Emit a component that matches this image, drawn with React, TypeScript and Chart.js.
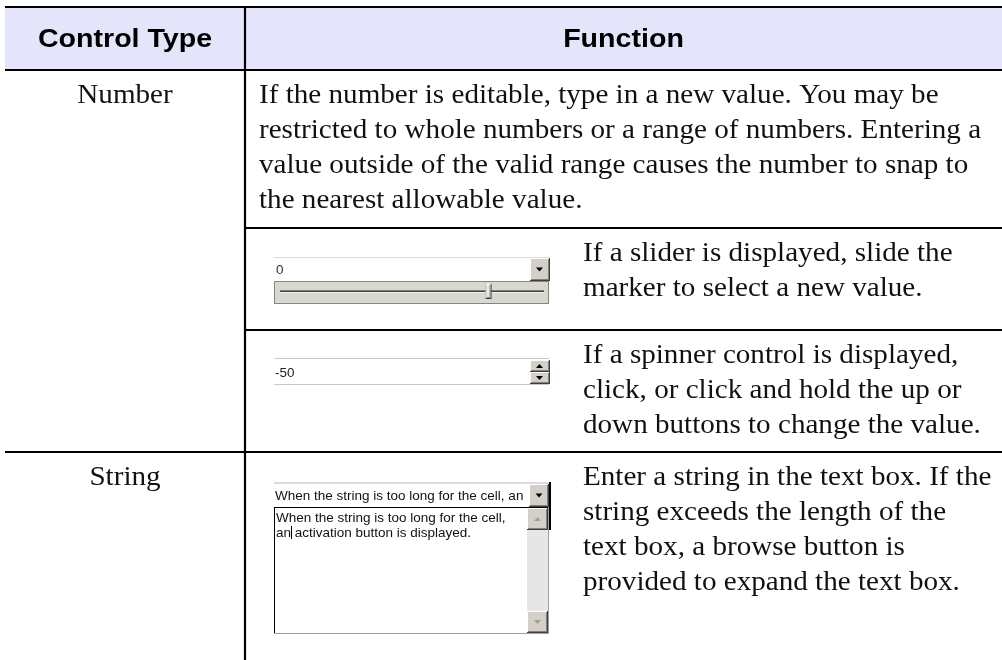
import React, { useEffect, useRef } from "react";
import { Chart, registerables } from "chart.js";
Chart.register(...registerables);

// ---- content ----
const headers = ["Control Type", "Function"];
const controlTypes = ["Number", "String"];
const numberText = [
  "If the number is editable, type in a new value. You may be",
  "restricted to whole numbers or a range of numbers. Entering a",
  "value outside of the valid range causes the number to snap to",
  "the nearest allowable value.",
];
const sliderText = ["If a slider is displayed, slide the", "marker to select a new value."];
const spinnerText = [
  "If a spinner control is displayed,",
  "click, or click and hold the up or",
  "down buttons to change the value.",
];
const stringText = [
  "Enter a string in the text box. If the",
  "string exceeds the length of the",
  "text box, a browse button is",
  "provided to expand the text box.",
];
const sliderValue = "0";
const sliderPosition = 0.79;
const spinnerValue = "-50";
const stringFieldValue = "When the string is too long for the cell, an";
const stringAreaLines = ["When the string is too long for the cell,", "an activation button is displayed."];

// ---- layout (pixel units of the linear scales) ----
const W = 1002;
const H = 660;
const COLS = [5, 245, 1002];
const ROWS = [7, 70, 228, 330, 452, 660];
const LINE_H = 35.3;
const FIRST_BASE = 32.5;

const HEADER_FONT = 'bold 26px "Liberation Sans", Arial, sans-serif';
const HEADER_STRETCH = 1.1;
const BODY_FONT = '28px "Liberation Serif", "Times New Roman", serif';
const BODY_STRETCH = 1.04;
const UI_FONT = '13.5px "Liberation Sans", Arial, sans-serif';
const FACE = "#d4d0c8";

const tablePlugin = {
  id: "tablePlugin",
  beforeDraw(chart: any) {
    const ctx: CanvasRenderingContext2D = chart.ctx;
    ctx.save();
    ctx.fillStyle = "#ffffff";
    ctx.fillRect(0, 0, chart.width, chart.height);
    ctx.restore();
  },
  afterDraw(chart: any) {
    const ctx: CanvasRenderingContext2D = chart.ctx;
    const xs = chart.scales.x;
    const ys = chart.scales.y;
    const X = (v: number) => xs.getPixelForValue(v);
    const Y = (v: number) => ys.getPixelForValue(v);

    const stretchText = (s: string, x: number, y: number, k: number, align: CanvasTextAlign) => {
      ctx.save();
      ctx.translate(x, y);
      ctx.scale(k, 1);
      ctx.textAlign = align;
      ctx.fillText(s, 0, 0);
      ctx.restore();
    };

    ctx.save();
    // header fill
    ctx.fillStyle = "rgb(228,228,250)";
    ctx.fillRect(X(COLS[0]), Y(ROWS[0]), X(COLS[2]) - X(COLS[0]), Y(ROWS[1]) - Y(ROWS[0]));

    // lines
    ctx.strokeStyle = "#000";
    ctx.lineWidth = 2.2;
    const hline = (y: number, x0: number, x1: number) => {
      ctx.beginPath();
      ctx.moveTo(X(x0), Y(y));
      ctx.lineTo(X(x1), Y(y));
      ctx.stroke();
    };
    hline(ROWS[0], COLS[0], COLS[2]);
    hline(ROWS[1], COLS[0], COLS[2]);
    hline(ROWS[2], COLS[1], COLS[2]);
    hline(ROWS[3], COLS[1], COLS[2]);
    hline(ROWS[4], COLS[0], COLS[2]);
    ctx.beginPath();
    ctx.moveTo(X(COLS[1]), Y(ROWS[0]));
    ctx.lineTo(X(COLS[1]), Y(ROWS[5]));
    ctx.stroke();

    // header text
    ctx.fillStyle = "#000";
    ctx.font = HEADER_FONT;
    ctx.textBaseline = "alphabetic";
    headers.forEach((h, i) => {
      const cx = (X(COLS[i]) + X(COLS[i + 1])) / 2;
      stretchText(h, cx, Y(47), HEADER_STRETCH, "center");
    });

    // body text
    ctx.font = BODY_FONT;
    ctx.fillStyle = "#111";
    const typeRows = [ROWS[1], ROWS[4]];
    controlTypes.forEach((t, i) => {
      stretchText(t, (X(COLS[0]) + X(COLS[1])) / 2, Y(typeRows[i] + FIRST_BASE), BODY_STRETCH, "center");
    });
    const para = (lines: string[], x: number, top: number) => {
      lines.forEach((l, i) => stretchText(l, X(x), Y(top + FIRST_BASE + i * LINE_H), BODY_STRETCH, "left"));
    };
    para(numberText, 259, ROWS[1]);
    para(sliderText, 583, ROWS[2]);
    para(spinnerText, 583, ROWS[3]);
    para(stringText, 583, ROWS[4]);

    // ---- widgets ----
    const rect = (x0: number, y0: number, x1: number, y1: number, c: string) => {
      ctx.fillStyle = c;
      ctx.fillRect(X(x0), Y(y0), X(x1) - X(x0), Y(y1) - Y(y0));
    };
    const button = (x0: number, y0: number, x1: number, y1: number) => {
      rect(x0, y0, x1, y1, "#404040");
      rect(x0, y0, x1 - 1, y1 - 1, "#ffffff");
      rect(x0 + 1, y0 + 1, x1 - 1, y1 - 1, "#808080");
      rect(x0 + 1, y0 + 1, x1 - 2, y1 - 2, FACE);
    };
    const tri = (cx: number, cy: number, up: boolean, color: string) => {
      ctx.fillStyle = color;
      ctx.beginPath();
      if (up) {
        ctx.moveTo(X(cx - 3.5), Y(cy + 2));
        ctx.lineTo(X(cx + 3.5), Y(cy + 2));
        ctx.lineTo(X(cx), Y(cy - 2));
      } else {
        ctx.moveTo(X(cx - 3.5), Y(cy - 2));
        ctx.lineTo(X(cx + 3.5), Y(cy - 2));
        ctx.lineTo(X(cx), Y(cy + 2));
      }
      ctx.closePath();
      ctx.fill();
    };
    const uiText = (s: string, x: number, y: number, c = "#222") => {
      ctx.font = UI_FONT;
      ctx.fillStyle = c;
      ctx.textAlign = "left";
      ctx.fillText(s, X(x), Y(y));
    };

    // slider widget
    rect(274, 257, 549, 258, "#dcdcdc");
    uiText(sliderValue, 276, 274, "#333");
    button(530, 258, 550, 281);
    tri(539.5, 269.5, false, "#000");
    rect(274, 281, 549, 304, "#d8d8d0");
    ctx.save();
    ctx.strokeStyle = "#333";
    ctx.lineWidth = 1;
    ctx.setLineDash([1, 1]);
    ctx.strokeRect(X(274) + 0.5, Y(281) + 0.5, X(549) - X(274) - 1, Y(304) - Y(281) - 1);
    ctx.restore();
    const t0 = 280, t1 = 544;
    rect(t0, 290, t1, 291, "#808080");
    rect(t0, 291, t1, 292, "#404040");
    rect(t0, 292, t1, 293, "#f4f4f4");
    const tx = t0 + (t1 - t0) * sliderPosition;
    rect(tx - 3, 284, tx + 3, 299, "#404040");
    rect(tx - 3, 284, tx + 2, 298, "#ffffff");
    rect(tx - 2, 285, tx + 2, 298, "#808080");
    rect(tx - 2, 285, tx + 1, 297, "#e8e8e4");

    // spinner widget
    rect(274, 358, 549, 359, "#c8c8c8");
    rect(274, 384, 549, 385, "#c8c8c8");
    uiText(spinnerValue, 275, 377, "#222");
    button(530, 360, 550, 372);
    button(530, 372, 550, 384);
    tri(539.5, 366, true, "#000");
    tri(539.5, 378, false, "#000");

    // string widget
    rect(274, 482, 549, 484, "#dcdcdc");
    uiText(stringFieldValue, 275, 500, "#111");
    button(529, 484, 549, 507);
    tri(539, 495.5, false, "#000");
    rect(549, 482, 551, 530, "#000");
    // text area
    rect(274, 507, 549, 634, "#a0a0a0");
    rect(274, 507, 548, 633, "#000");
    rect(275, 508, 548, 633, "#ffffff");
    uiText(stringAreaLines[0], 276, 522, "#111");
    uiText(stringAreaLines[1], 276, 537, "#111");
    ctx.font = UI_FONT;
    const caretX = X(276) + ctx.measureText("an").width;
    ctx.fillStyle = "#000";
    ctx.fillRect(caretX, Y(526), 1, Y(539) - Y(526));
    // scrollbar
    rect(527, 508, 548, 633, "#e6e6e6");
    button(527, 508, 548, 530);
    tri(537.5, 519, true, "#a0a0a0");
    button(527, 611, 548, 633);
    tri(537.5, 622, false, "#a0a0a0");
    ctx.restore();
  },
};

export default function App() {
  const ref = useRef<HTMLCanvasElement | null>(null);
  useEffect(() => {
    if (!ref.current) return;
    const chart = new Chart(ref.current, {
      type: "scatter",
      data: { datasets: [{ data: [], showLine: false }] },
      options: {
        animation: false,
        responsive: false,
        devicePixelRatio: 1,
        events: [],
        layout: { padding: 0 },
        plugins: { legend: { display: false }, tooltip: { enabled: false } },
        scales: {
          x: { type: "linear", min: 0, max: W, display: false },
          y: { type: "linear", min: 0, max: H, reverse: true, display: false },
        },
      },
      plugins: [tablePlugin],
    });
    return () => chart.destroy();
  }, []);
  return (
    <div style={{ position: "fixed", left: 0, top: 0, width: W, height: H, background: "#fff" }}>
      <canvas ref={ref} width={W} height={H} style={{ display: "block", width: W, height: H }} />
    </div>
  );
}
